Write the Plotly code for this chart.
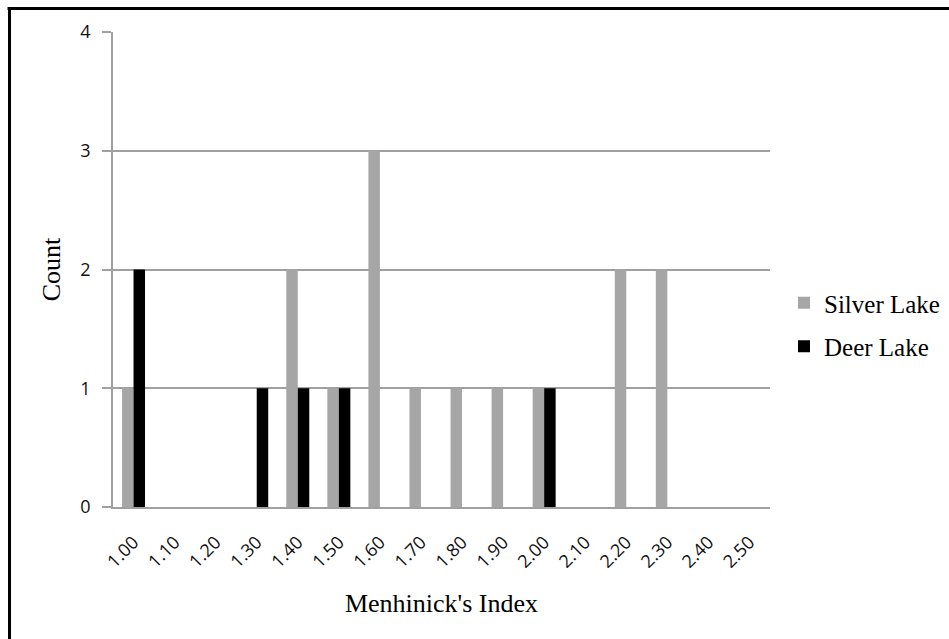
import plotly.graph_objects as go

categories = ["1.00", "1.10", "1.20", "1.30", "1.40", "1.50", "1.60", "1.70",
              "1.80", "1.90", "2.00", "2.10", "2.20", "2.30", "2.40", "2.50"]
silver_lake = [1, 0, 0, 0, 2, 1, 3, 1, 1, 1, 1, 0, 2, 2, 0, 0]
deer_lake = [2, 0, 0, 1, 1, 1, 0, 0, 0, 0, 1, 0, 0, 0, 0, 0]
y_ticks = [0, 1, 2, 3, 4]

W, H = 949, 639
L, R, T, B = 113, 770, 32, 507

fig = go.Figure()
fig.add_trace(go.Bar(x=categories, y=silver_lake, name="Silver Lake",
                     marker=dict(color="#A6A6A6", line=dict(width=0)),
                     legendgroup="a"))
fig.add_trace(go.Bar(x=categories, y=deer_lake, name="Deer Lake",
                     marker=dict(color="#000000", line=dict(width=0)),
                     legendgroup="b"))

pw, ph = R - L, B - T
def px(x):
    return (x - L) / pw
def py(y):
    return (B - y) / ph

fig.update_layout(
    width=W, height=H,
    margin=dict(l=L, r=W - R, t=T, b=H - B, pad=0, autoexpand=False),
    paper_bgcolor="white", plot_bgcolor="white",
    barmode="group", bargap=0.44, bargroupgap=0,
    showlegend=True,
    legend=dict(x=px(784), y=py(280), xanchor="left", yanchor="top",
                font=dict(family="Liberation Serif", size=25, color="#000"),
                tracegroupgap=8, traceorder="grouped",
                itemwidth=30, bgcolor="rgba(0,0,0,0)"),
    xaxis=dict(type="category", tickangle=-45, showgrid=False,
               showline=True, linecolor="#A0A0A0", linewidth=1.5,
               ticks="", ticklabelstandoff=16, automargin=False,
               tickfont=dict(family="Open Sans", size=18, color="#111"),
               title=dict(text="Menhinick's Index", standoff=22,
                          font=dict(family="Liberation Serif", size=26, color="#000"))),
    yaxis=dict(range=[0, 4], tickvals=y_ticks, showgrid=True,
               gridcolor="#A0A0A0", gridwidth=1.5, zeroline=False,
               showline=True, linecolor="#A0A0A0", linewidth=1.5,
               ticks="outside", ticklen=9, tickcolor="#A0A0A0", tickwidth=1.5,
               ticklabelstandoff=8, automargin=False,
               tickfont=dict(family="Open Sans", size=18, color="#111"),
               title=dict(text="Count", standoff=12,
                          font=dict(family="Liberation Serif", size=26, color="#000"))),
    shapes=[
        dict(type="line", xref="paper", yref="paper", x0=px(7.5), x1=px(1000),
             y0=py(8.5), y1=py(8.5), line=dict(color="#000", width=3)),
        dict(type="line", xref="paper", yref="paper", x0=px(9.5), x1=px(9.5),
             y0=py(7), y1=py(700), line=dict(color="#000", width=3)),
    ],
)

fig.write_html("out.html", config={"displayModeBar": False},
               post_script="document.body.style.margin='0';document.body.style.overflow='hidden';")
